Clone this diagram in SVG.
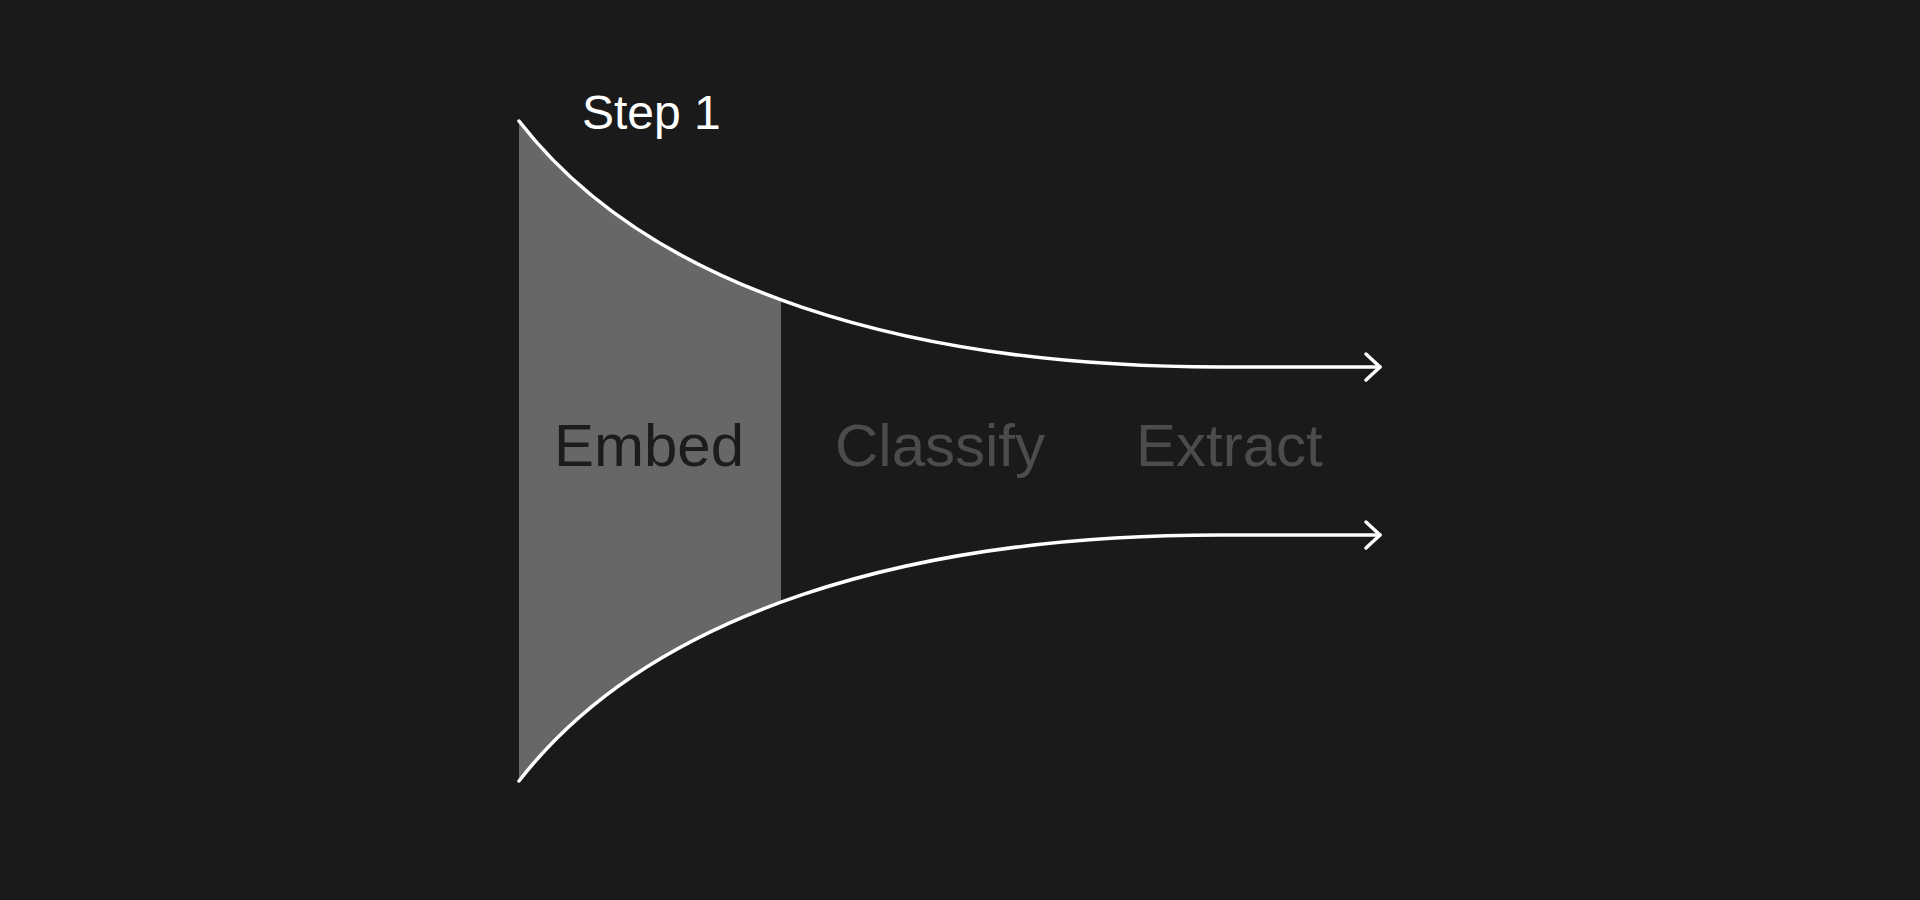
<svg xmlns="http://www.w3.org/2000/svg" width="1920" height="900" viewBox="0 0 1920 900">
<defs>
<style>
.lbl{font-family:"Liberation Sans",Arial,sans-serif;font-size:60px}
.flow{fill:none;stroke:#ffffff;stroke-width:3.5;stroke-linecap:round;stroke-linejoin:round}
</style>
<clipPath id="embedClip"><rect x="518" y="0" width="263" height="900"/></clipPath>
</defs>
<rect width="1920" height="900" fill="#1a1a1a"/>
<g id="embed">
<path d="M519,121 C650,290 910,367 1220,367 L1220,535 C910,535 650,612 519,781 Z" fill="#676767" clip-path="url(#embedClip)"/>
<text class="lbl" x="554" y="466" fill="#1c1c1c">Embed</text>
</g>
<g id="classify"><text class="lbl" x="835" y="466" fill="#4c4c4c">Classify</text></g>
<g id="extract"><text class="lbl" x="1136" y="466" fill="#4c4c4c">Extract</text></g>
<g id="step"><text x="582" y="129" fill="#ffffff" font-family="Liberation Sans, Arial, sans-serif" font-size="48">Step 1</text></g>
<g id="connectors">
<path class="flow" d="M519,121 C650,290 910,367 1220,367 L1380,367"/>
<path class="flow" d="M1366,354 L1380,367 L1366,380"/>
<path class="flow" d="M519,781 C650,612 910,535 1220,535 L1380,535"/>
<path class="flow" d="M1366,522 L1380,535 L1366,548"/>
</g>
</svg>
